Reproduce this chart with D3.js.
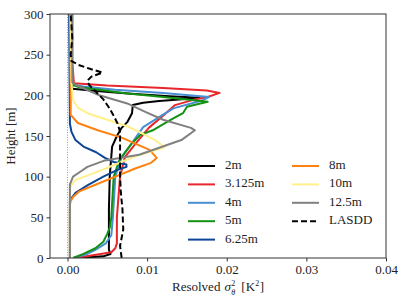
<!DOCTYPE html>
<html>
<head>
<meta charset="utf-8">
<script src="https://cdn.jsdelivr.net/npm/d3@7"></script>
<style>
  body { margin: 0; background: #fff; }
  svg text { font-family: "Liberation Serif", "DejaVu Serif", serif; }
</style>
</head>
<body>
<svg id="chart" width="407" height="305"></svg>
<script>
// profiles: [height (m), resolved variance (K^2)]
const p2m = [[0,0.0010],[2,0.0045],[5,0.0054],[10,0.0052],[60,0.0052],[100,0.0053],[137,0.0056],[150,0.0062],[160,0.0068],[167,0.0075],[178,0.0081],[188,0.0082],[191,0.0095],[193,0.0115],[195,0.0140],[197,0.0166],[199,0.0128],[202,0.0080],[205,0.0040],[208,0.0006],[230,0.0005],[300,0.0005]];
const p3125m = [[0,0.0010],[3,0.0030],[7,0.0055],[12,0.0060],[18,0.0062],[50,0.0062],[100,0.0066],[124,0.0072],[140,0.0085],[160,0.0102],[175,0.0120],[188,0.0135],[195,0.0160],[198,0.0176],[203,0.0191],[206,0.0175],[209,0.0120],[212,0.0050],[215,0.0008],[240,0.0006],[300,0.0006]];
const p4m = [[0,0.0007],[5,0.0025],[10,0.0035],[18,0.0048],[28,0.0055],[50,0.0057],[100,0.0060],[124,0.0068],[140,0.0080],[161,0.0095],[175,0.0118],[184,0.0133],[194,0.0170],[198,0.0178],[203,0.0120],[207,0.0060],[211,0.0020],[213,0.0007],[240,0.0005],[300,0.0005]];
const p5m = [[0,0.0007],[5,0.0020],[12,0.0035],[20,0.0045],[30,0.0050],[37,0.0053],[50,0.0055],[100,0.0058],[120,0.0065],[140,0.0080],[151,0.0091],[157,0.0107],[170,0.0130],[178,0.0145],[186,0.0150],[192,0.0176],[198,0.0120],[203,0.0070],[207,0.0040],[210,0.0015],[213,0.0006],[240,0.0005],[300,0.0005]];
const p625m = [[0,0.0003],[70,0.0003],[75,0.0006],[80,0.0010],[90,0.0026],[100,0.0045],[108,0.0062],[112,0.0074],[115,0.0074],[118,0.0058],[123,0.0047],[130,0.0036],[137,0.0020],[145,0.0010],[155,0.0005],[165,0.0003],[300,0.0002]];
const p8m = [[0,0.0003],[65,0.0003],[70,0.0004],[75,0.0007],[82,0.0015],[90,0.0035],[100,0.0060],[110,0.0085],[117,0.0105],[123,0.0112],[133,0.0103],[148,0.0068],[157,0.0038],[166,0.0013],[176,0.0004],[190,0.0004],[300,0.0003]];
const p10m = [[0,0.0003],[85,0.0003],[90,0.0005],[96,0.0010],[105,0.0035],[115,0.0060],[125,0.0085],[131,0.0105],[136,0.0122],[145,0.0110],[155,0.0090],[162,0.0075],[170,0.0050],[178,0.0025],[185,0.0013],[194,0.0007],[215,0.0005],[300,0.0004]];
const p125m = [[0,0.0003],[90,0.0003],[93,0.0004],[100,0.0007],[106,0.0016],[112,0.0025],[120,0.0047],[127,0.0090],[145,0.0143],[157,0.0160],[160,0.0155],[170,0.0120],[180,0.0097],[190,0.0075],[200,0.0040],[213,0.0010],[216,0.0006],[300,0.0006]];
const pLASDD = [[0,0.0068],[15,0.0066],[35,0.0070],[60,0.0069],[80,0.0067],[100,0.0066],[130,0.0066],[155,0.0066],[165,0.0063],[175,0.0058],[185,0.0052],[195,0.0045],[205,0.0035],[213,0.0027],[218,0.0025],[223,0.0030],[228,0.0044],[232,0.0030],[237,0.0015],[242,0.0005],[250,0.0004],[270,0.0006],[300,0.0004]];

const seriesNames = ["2m", "3.125m", "4m", "5m", "6.25m", "8m", "10m", "12.5m", "LASDD"];
const seriesData = [p2m, p3125m, p4m, p5m, p625m, p8m, p10m, p125m, pLASDD];
const seriesColors = ["#000000", "#e8262b", "#4a8fd4", "#129112", "#0b4596", "#ff8210", "#fff08c", "#808080", "#000000"];

const xTicks = [0, 0.01, 0.02, 0.03, 0.04];
const yTicks = [0, 50, 100, 150, 200, 250, 300];

const svg = d3.select("#chart");
const mL = 50, mR = 386, mT = 14, mB = 258;

const x = d3.scaleLinear().domain([-0.0022, 0.04]).range([mL, mR]);
const y = d3.scaleLinear().domain([0, 300]).range([mB, mT]);

svg.append("defs").append("clipPath").attr("id", "clip")
  .append("rect").attr("x", mL).attr("y", mT)
  .attr("width", mR - mL).attr("height", mB - mT);

// dotted zero line
svg.append("line")
  .attr("x1", x(0)).attr("x2", x(0))
  .attr("y1", y(0)).attr("y2", y(300))
  .attr("stroke", "#6fa3d8").attr("stroke-width", 1)
  .attr("stroke-dasharray", "1,1.5");

const line = d3.line()
  .x(d => x(d[1]))
  .y(d => y(d[0]));

const plot = svg.append("g").attr("clip-path", "url(#clip)");
seriesData.forEach((pts, i) => {
  plot.append("path")
    .datum(pts)
    .attr("d", line)
    .attr("fill", "none")
    .attr("stroke", seriesColors[i])
    .attr("stroke-width", 2)
    .attr("stroke-linejoin", "round")
    .attr("stroke-dasharray", seriesNames[i] === "LASDD" ? "6,3" : null);
});

// frame
svg.append("rect")
  .attr("x", mL).attr("y", mT)
  .attr("width", mR - mL).attr("height", mB - mT)
  .attr("fill", "none").attr("stroke", "#333").attr("stroke-width", 1);

const xAxis = svg.append("g")
  .attr("transform", `translate(0,${mB})`)
  .call(d3.axisBottom(x).tickValues(xTicks).tickFormat(d3.format(".2f")).tickSize(3.5).tickPadding(3));
const yAxis = svg.append("g")
  .attr("transform", `translate(${mL},0)`)
  .call(d3.axisLeft(y).tickValues(yTicks).tickSize(3.5).tickPadding(3));

[xAxis, yAxis].forEach(g => {
  g.select(".domain").remove();
  g.selectAll(".tick line").attr("stroke", "#333");
  g.selectAll(".tick text")
    .attr("font-size", 13).attr("fill", "#222");
});

// axis labels
svg.append("text")
  .attr("transform", `translate(12,${(mT + mB) / 2}) rotate(-90)`)
  .attr("text-anchor", "middle").attr("dominant-baseline", "middle")
  .attr("font-size", 13).attr("fill", "#222")
  .text("Height [m]");

// x label with stacked super/subscript, laid out piece by piece
const xlab = svg.append("g");
const base = 291;
let cx = 0;
function piece(txt, size, dy, italic, advance) {
  const t = xlab.append("text")
    .attr("x", cx).attr("y", base + dy)
    .attr("font-size", size).attr("fill", "#222")
    .attr("font-style", italic ? "italic" : null)
    .text(txt);
  const w = t.node().getComputedTextLength();
  if (advance) cx += w;
  return w;
}
piece("Resolved", 13, 0, false, true);
cx += 4;
piece("σ", 13, 0, true, true);
cx += 0.5;
const w2 = piece("2", 8, -5.5, false, false);
const wt = piece("θ", 8, 3.5, true, false);
cx += Math.max(w2, wt) + 6;
piece("[K", 13, 0, false, true);
cx += 0.3;
piece("2", 8, -5.5, false, true);
cx += 0.3;
piece("]", 13, 0, false, true);
xlab.attr("transform", `translate(${(mL + mR) / 2 - cx / 2},0)`);

// legend
const legend = svg.append("g");
seriesNames.forEach((name, i) => {
  const col = i < 5 ? 0 : 1;
  const row = i < 5 ? i : i - 5;
  const lx = col === 0 ? 188 : 292;
  const ly = 166 + row * 18.4;
  legend.append("line")
    .attr("x1", lx).attr("x2", lx + 27)
    .attr("y1", ly).attr("y2", ly)
    .attr("stroke", seriesColors[i]).attr("stroke-width", 2)
    .attr("stroke-dasharray", name === "LASDD" ? "6,3" : null);
  legend.append("text")
    .attr("x", lx + 37).attr("y", ly)
    .attr("dominant-baseline", "middle")
    .attr("font-size", 13).attr("fill", "#222")
    .text(name);
});
</script>
</body>
</html>
